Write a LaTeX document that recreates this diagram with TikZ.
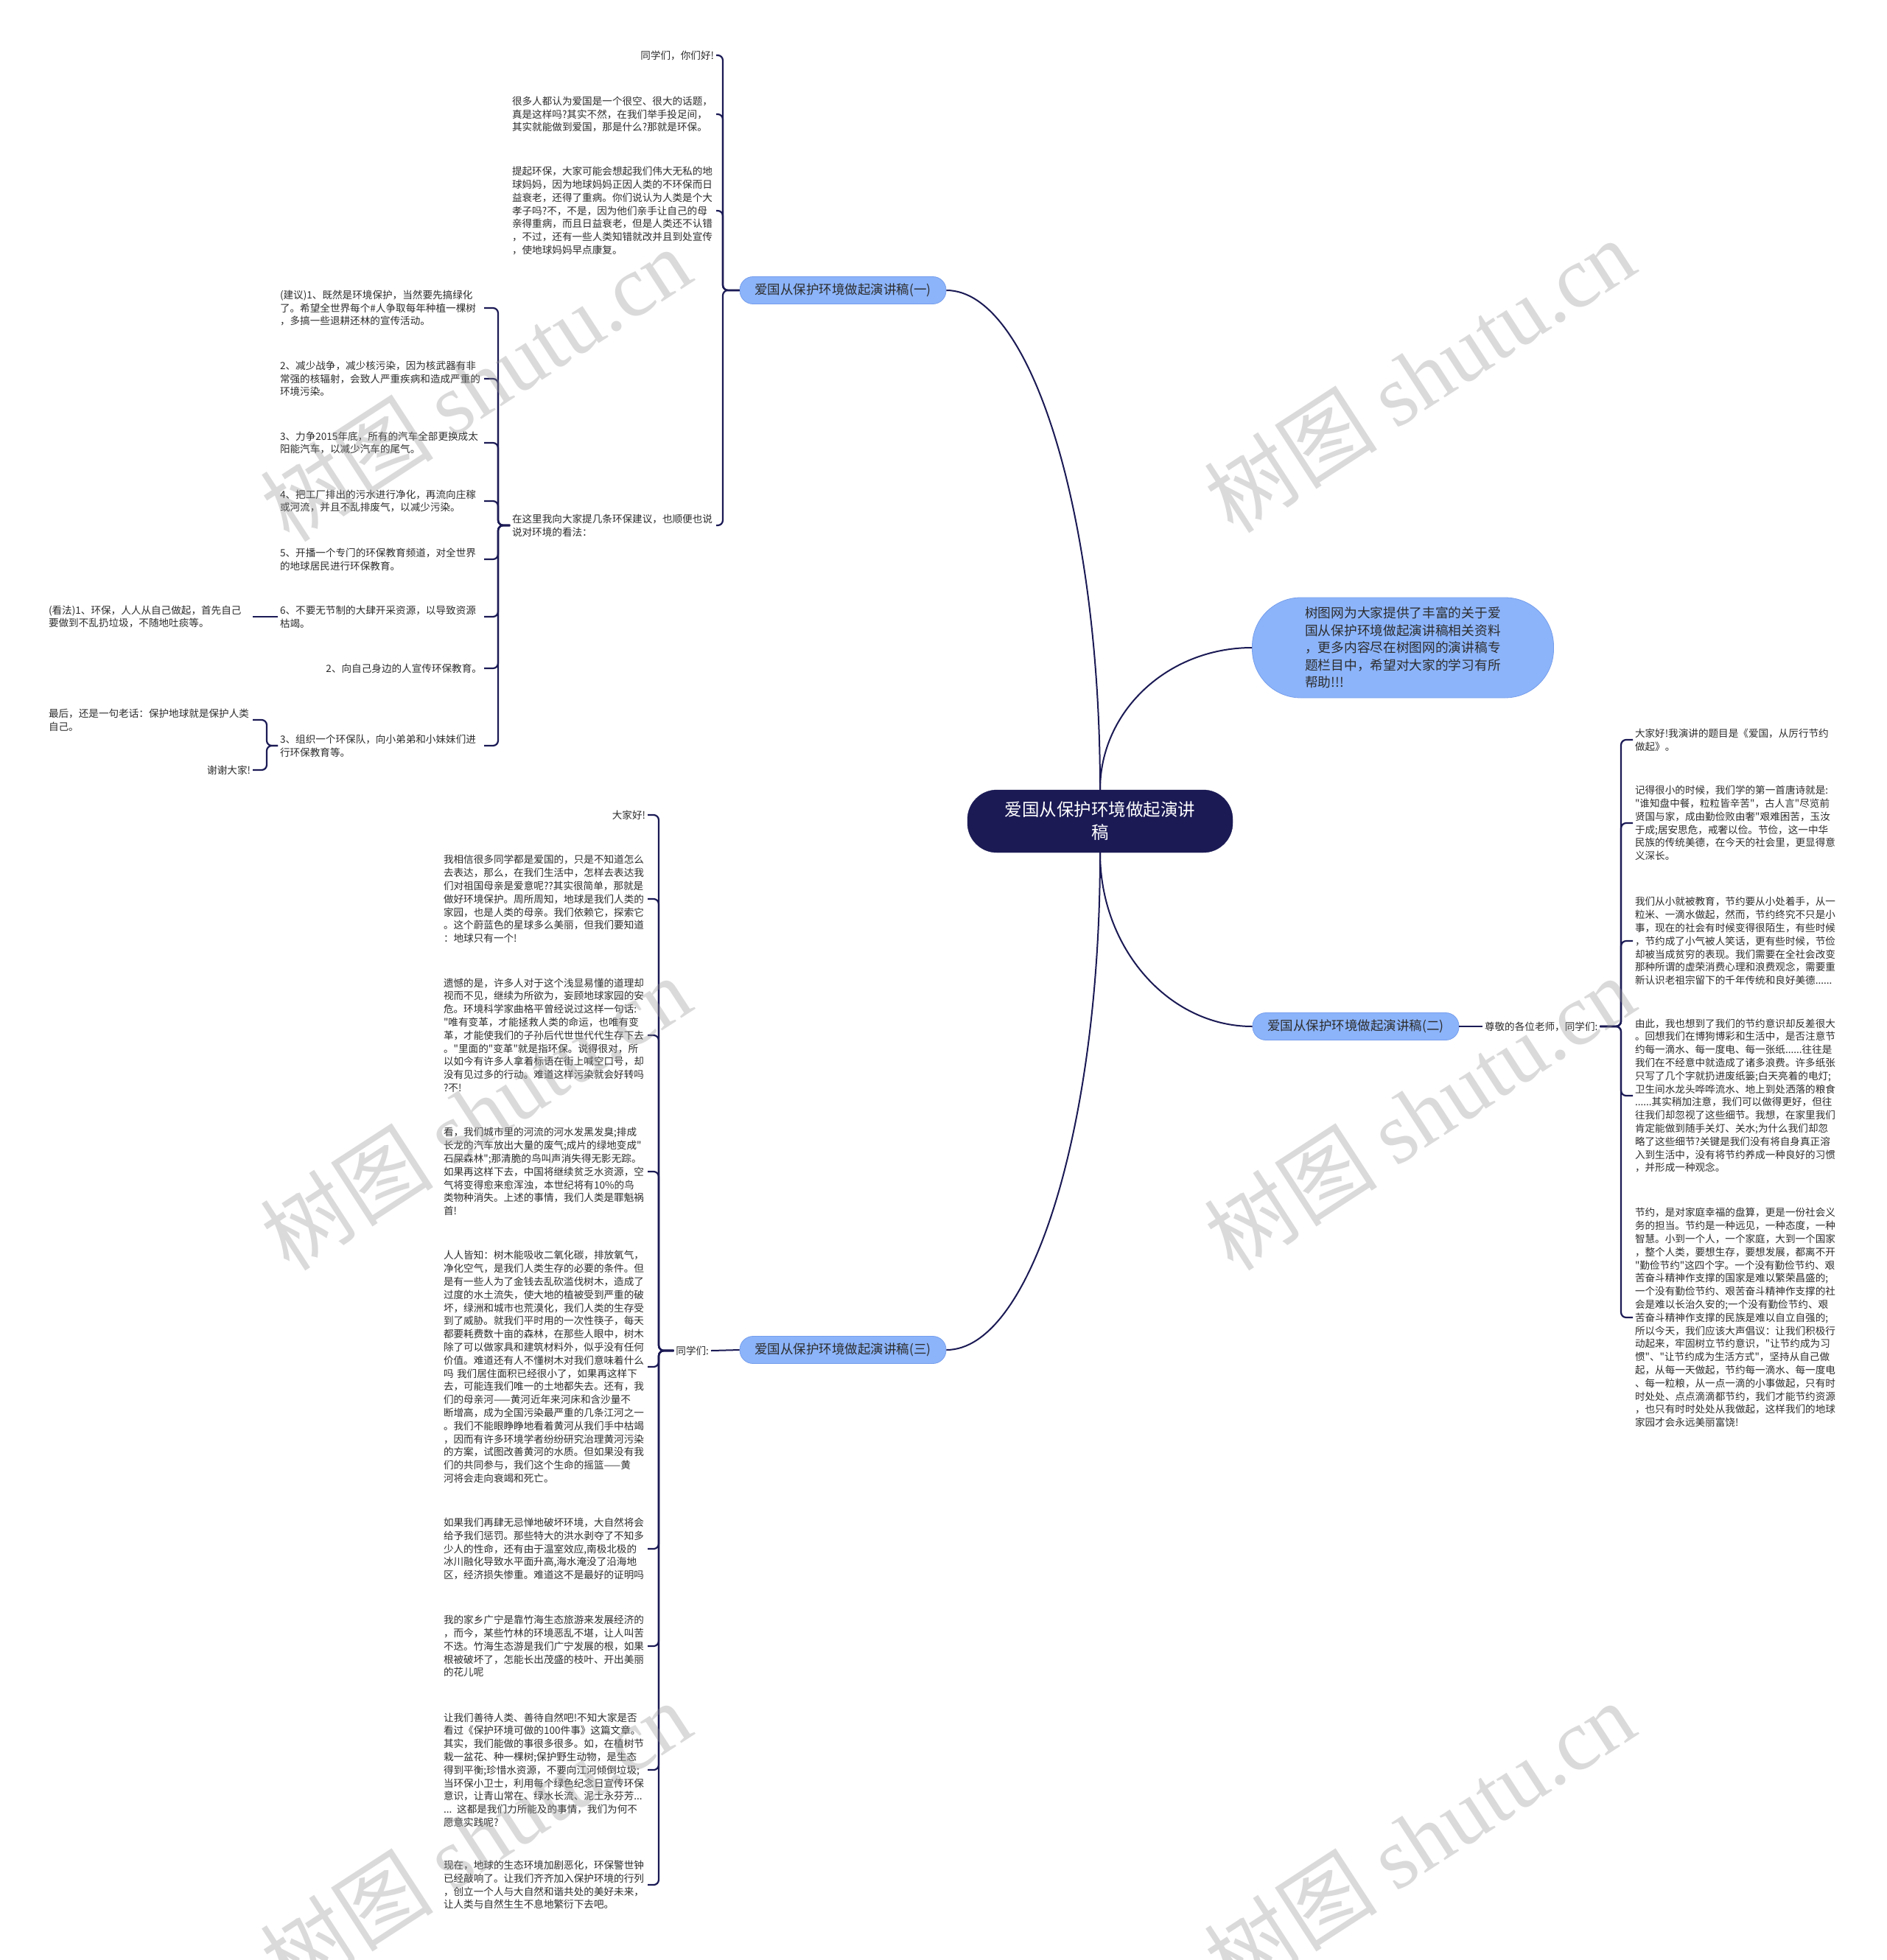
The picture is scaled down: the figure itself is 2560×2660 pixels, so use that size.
\documentclass[tikz,border=0pt]{standalone}
\usepackage{fontspec}
\setmainfont{Noto Sans CJK SC}[Ligatures=TeXOff]
\newfontfamily\wmlatin{Liberation Serif}
\definecolor{navy}{RGB}{27,26,85}
\definecolor{bfill}{RGB}{140,180,250}
\definecolor{bline}{RGB}{118,158,236}
\definecolor{wmc}{RGB}{150,150,150}
\definecolor{txtc}{RGB}{45,45,45}
\tikzset{
  conn/.style={draw=navy, line width=2pt},
  brk/.style={draw=navy, line width=2.2pt, rounded corners=7pt},
  txt/.style={font=\fontsize{13.6}{17.8}\selectfont, text=txtc, inner sep=0pt, outer xsep=3pt, text width=274pt, align=left, anchor=west},
  txtr/.style={txt, align=right},
  lab/.style={font=\fontsize{13.6}{17.8}\selectfont, text=txtc, inner sep=0pt, outer xsep=3pt},
  branch/.style={fill=bfill, draw=bline, line width=0.8pt, rounded corners=18pt, minimum width=280pt, minimum height=37pt, inner sep=0pt, font=\fontsize{17.5}{21}\selectfont, text=txtc},
  bubble/.style={fill=bfill, draw=bline, line width=0.8pt, rounded corners=66pt, minimum width=409pt, minimum height=136pt, inner sep=0pt, font=\fontsize{17.7}{23.5}\selectfont, text=txtc, align=left},
  central/.style={fill=navy, draw=navy, rounded corners=40pt, minimum width=360pt, minimum height=85pt, inner sep=0pt, font=\fontsize{23.5}{31}\selectfont, text=white, align=center},
  wmk/.style={rotate=33, font=\fontsize{118}{118}\selectfont, text=wmc, text opacity=0.35, inner sep=0pt}
}
\begin{document}
\begin{tikzpicture}[x=1pt,y=-1pt]
\useasboundingbox (0,0) rectangle (2560,2660);
\fill[white] (0,0) rectangle (2560,2660);

% central and main branches
\node[central] (c) at (1493,1114.5) {爱国从保护环境做起演讲\\稿};
\node[branch] (b1) at (1144,394) {爱国从保护环境做起演讲稿(一)};
\node[bubble] (bub) at (1904,879) {树图网为大家提供了丰富的关于爱\\国从保护环境做起演讲稿相关资料\\，更多内容尽在树图网的演讲稿专\\题栏目中，希望对大家的学习有所\\帮助!!!};
\node[branch] (b2) at (1840,1393) {爱国从保护环境做起演讲稿(二)};
\node[branch] (b3) at (1144,1832) {爱国从保护环境做起演讲稿(三)};

\draw[conn] (c.north) .. controls (1493,698) and (1399,394) .. (b1.east);
\draw[conn] (c.north) .. controls (1493,965) and (1585,879) .. (bub.west);
\draw[conn] (c.south) .. controls (1493,1287) and (1586,1393) .. (b2.west);
\draw[conn] (c.south) .. controls (1493,1530) and (1399,1832) .. (b3.east);

% branch 1
\node[txtr] (t1a) at (692,75) {同学们，你们好!};
\node[txt] (t1b) at (692,155) {很多人都认为爱国是一个很空、很大的话题，\\真是这样吗?其实不然，在我们举手投足间，\\其实就能做到爱国，那是什么?那就是环保。};
\node[txt] (t1c) at (692,286) {提起环保，大家可能会想起我们伟大无私的地\\球妈妈，因为地球妈妈正因人类的不环保而日\\益衰老，还得了重病。你们说认为人类是个大\\孝子吗?不，不是，因为他们亲手让自己的母\\亲得重病，而且日益衰老，但是人类还不认错\\，不过，还有一些人类知错就改并且到处宣传\\，使地球妈妈早点康复。};
\node[txt] (t1d) at (692,713) {在这里我向大家提几条环保建议，也顺便也说\\说对环境的看法：};

\coordinate (j1) at (981,394);
\foreach \k in {t1a,t1b,t1c,t1d} \draw[brk] (b1.west) -- (j1) |- (\k.east);

\node[txt] (s1) at (377,418) {(建议)1、既然是环境保护，当然要先搞绿化\\了。希望全世界每个\#人争取每年种植一棵树\\，多搞一些退耕还林的宣传活动。};
\node[txt] (s2) at (377,514) {2、减少战争，减少核污染，因为核武器有非\\常强的核辐射，会致人严重疾病和造成严重的\\环境污染。};
\node[txt] (s3) at (377,601) {3、力争2015年底，所有的汽车全部更换成太\\阳能汽车，以减少汽车的尾气。};
\node[txt] (s4) at (377,680) {4、把工厂排出的污水进行净化，再流向庄稼\\或河流，并且不乱排废气，以减少污染。};
\node[txt] (s5) at (377,759) {5、开播一个专门的环保教育频道，对全世界\\的地球居民进行环保教育。};
\node[txt] (s6) at (377,837) {6、不要无节制的大肆开采资源，以导致资源\\枯竭。};
\node[txtr] (s7) at (377,907) {2、向自己身边的人宣传环保教育。};
\node[txt] (s8) at (377,1012) {3、组织一个环保队，向小弟弟和小妹妹们进\\行环保教育等。};

\coordinate (jd) at (676,713);
\foreach \k in {s1,s2,s3,s4,s5,s6,s7,s8} \draw[brk] (t1d.west) -- (jd) |- (\k.east);

\node[txt] (k1) at (63,837) {(看法)1、环保，人人从自己做起，首先自己\\要做到不乱扔垃圾，不随地吐痰等。};
\draw[brk] (s6.west) -- (k1.east);

\node[txt] (k2) at (63,977) {最后，还是一句老话：保护地球就是保护人类\\自己。};
\node[txtr] (k3) at (63,1045) {谢谢大家!};
\coordinate (j8) at (362,1012);
\foreach \k in {k2,k3} \draw[brk] (s8.west) -- (j8) |- (\k.east);

% branch 2
\node[lab, anchor=west] (lab2) at (2012,1393) {尊敬的各位老师，同学们:};
\draw[conn] (b2.east) -- (lab2.west);
\node[txt] (r1) at (2216,1004) {大家好!我演讲的题目是《爱国，从厉行节约\\做起》。};
\node[txt] (r2) at (2216,1117) {记得很小的时候，我们学的第一首唐诗就是:\\"谁知盘中餐，粒粒皆辛苦"，古人言"尽览前\\贤国与家，成由勤俭败由奢"艰难困苦，玉汝\\于成;居安思危，戒奢以俭。节俭，这一中华\\民族的传统美德，在今天的社会里，更显得意\\义深长。};
\node[txt] (r3) at (2216,1277) {我们从小就被教育，节约要从小处着手，从一\\粒米、一滴水做起，然而，节约终究不只是小\\事，现在的社会有时候变得很陌生，有些时候\\，节约成了小气被人笑话，更有些时候，节俭\\却被当成贫穷的表现。我们需要在全社会改变\\那种所谓的虚荣消费心理和浪费观念，需要重\\新认识老祖宗留下的千年传统和良好美德......};
\node[txt] (r4) at (2216,1487) {由此，我也想到了我们的节约意识却反差很大\\。回想我们在博狗博彩和生活中，是否注意节\\约每一滴水、每一度电、每一张纸......往往是\\我们在不经意中就造成了诸多浪费。许多纸张\\只写了几个字就扔进废纸篓;白天亮着的电灯;\\卫生间水龙头哗哗流水、地上到处洒落的粮食\\......其实稍加注意，我们可以做得更好，但往\\往我们却忽视了这些细节。我想，在家里我们\\肯定能做到随手关灯、关水;为什么我们却忽\\略了这些细节?关键是我们没有将自身真正溶\\入到生活中，没有将节约养成一种良好的习惯\\，并形成一种观念。};
\node[txt] (r5) at (2216,1788) {节约，是对家庭幸福的盘算，更是一份社会义\\务的担当。节约是一种远见，一种态度，一种\\智慧。小到一个人，一个家庭，大到一个国家\\，整个人类，要想生存，要想发展，都离不开\\"勤俭节约"这四个字。一个没有勤俭节约、艰\\苦奋斗精神作支撑的国家是难以繁荣昌盛的;\\一个没有勤俭节约、艰苦奋斗精神作支撑的社\\会是难以长治久安的;一个没有勤俭节约、艰\\苦奋斗精神作支撑的民族是难以自立自强的;\\所以今天，我们应该大声倡议：让我们积极行\\动起来，牢固树立节约意识，"让节约成为习\\惯"、"让节约成为生活方式"，坚持从自己做\\起，从每一天做起，节约每一滴水、每一度电\\、每一粒粮，从一点一滴的小事做起，只有时\\时处处、点点滴滴都节约，我们才能节约资源\\，也只有时时处处从我做起，这样我们的地球\\家园才会永远美丽富饶!};
\coordinate (j2) at (2200,1393);
\foreach \k in {r1,r2,r3,r4,r5} \draw[brk] (lab2.east) -- (j2) |- (\k.west);

% branch 3
\node[lab, anchor=east] (lab3) at (965,1833) {同学们:};
\draw[conn] (b3.west) -- (lab3.east);
\node[txtr] (l1) at (599,1106) {大家好!};
\node[txt] (l2) at (599,1220) {我相信很多同学都是爱国的，只是不知道怎么\\去表达，那么，在我们生活中，怎样去表达我\\们对祖国母亲是爱意呢??其实很简单，那就是\\做好环境保护。周所周知，地球是我们人类的\\家园，也是人类的母亲。我们依赖它，探索它\\。这个蔚蓝色的星球多么美丽，但我们要知道\\：地球只有一个!};
\node[txt] (l3) at (599,1405) {遗憾的是，许多人对于这个浅显易懂的道理却\\视而不见，继续为所欲为，妄顾地球家园的安\\危。环境科学家曲格平曾经说过这样一句话:\\"唯有变革，才能拯救人类的命运，也唯有变\\革，才能使我们的子孙后代世世代代生存下去\\。"里面的"变革"就是指环保。说得很对，所\\以如今有许多人拿着标语在街上喊空口号，却\\没有见过多的行动。难道这样污染就会好转吗\\?不!};
\node[txt] (l4) at (599,1590) {看，我们城市里的河流的河水发黑发臭;排成\\长龙的汽车放出大量的废气;成片的绿地变成"\\石屎森林";那清脆的鸟叫声消失得无影无踪。\\如果再这样下去，中国将继续贫乏水资源，空\\气将变得愈来愈浑浊，本世纪将有10\%的鸟\\类物种消失。上述的事情，我们人类是罪魁祸\\首!};
\node[txt] (l5) at (599,1855) {人人皆知：树木能吸收二氧化碳，排放氧气，\\净化空气，是我们人类生存的必要的条件。但\\是有一些人为了金钱去乱砍滥伐树木，造成了\\过度的水土流失，使大地的植被受到严重的破\\坏，绿洲和城市也荒漠化，我们人类的生存受\\到了威胁。就我们平时用的一次性筷子，每天\\都要耗费数十亩的森林，在那些人眼中，树木\\除了可以做家具和建筑材料外，似乎没有任何\\价值。难道还有人不懂树木对我们意味着什么\\吗 我们居住面积已经很小了，如果再这样下\\去，可能连我们唯一的土地都失去。还有，我\\们的母亲河——黄河近年来河床和含沙量不\\断增高，成为全国污染最严重的几条江河之一\\。我们不能眼睁睁地看着黄河从我们手中枯竭\\，因而有许多环境学者纷纷研究治理黄河污染\\的方案，试图改善黄河的水质。但如果没有我\\们的共同参与，我们这个生命的摇篮——黄\\河将会走向衰竭和死亡。};
\node[txt] (l6) at (599,2102) {如果我们再肆无忌惮地破坏环境，大自然将会\\给予我们惩罚。那些特大的洪水剥夺了不知多\\少人的性命，还有由于温室效应,南极北极的\\冰川融化导致水平面升高,海水淹没了沿海地\\区，经济损失惨重。难道这不是最好的证明吗};
\node[txt] (l7) at (599,2234) {我的家乡广宁是靠竹海生态旅游来发展经济的\\，而今，某些竹林的环境恶乱不堪，让人叫苦\\不迭。竹海生态游是我们广宁发展的根，如果\\根被破坏了，怎能长出茂盛的枝叶、开出美丽\\的花儿呢};
\node[txt] (l8) at (599,2402) {让我们善待人类、善待自然吧!不知大家是否\\看过《保护环境可做的100件事》这篇文章。\\其实，我们能做的事很多很多。如，在植树节\\栽一盆花、种一棵树;保护野生动物，是生态\\得到平衡;珍惜水资源，不要向江河倾倒垃圾;\\当环保小卫士，利用每个绿色纪念日宣传环保\\意识，让青山常在、绿水长流、泥土永芬芳...\\... 这都是我们力所能及的事情，我们为何不\\愿意实践呢?};
\node[txt] (l9) at (599,2558) {现在，地球的生态环境加剧恶化，环保警世钟\\已经敲响了。让我们齐齐加入保护环境的行列\\，创立一个人与大自然和谐共处的美好未来，\\让人类与自然生生不息地繁衍下去吧。};
\coordinate (j3) at (894,1833);
\foreach \k in {l1,l2,l3,l4,l5,l6,l7,l8,l9} \draw[brk] (lab3.west) -- (j3) |- (\k.east);

% watermarks
\foreach \p in {(645,521),(1926,509),(645,1510),(1926,1510),(645,2494),(1926,2494)}
  \node[wmk] at \p {树图 {\wmlatin shutu.cn}};
\end{tikzpicture}
\end{document}
